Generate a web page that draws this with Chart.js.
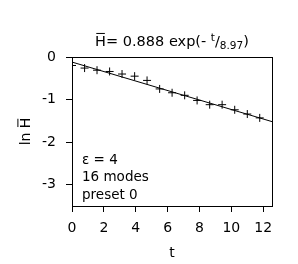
<!DOCTYPE html>
<html>
<head>
<meta charset="utf-8">
<script src="https://cdn.jsdelivr.net/npm/chart.js@4"></script>
<style>
  html, body { margin: 0; padding: 0; background: #fff; }
  #wrap { width: 298px; height: 264px; }
</style>
</head>
<body>
<div id="wrap"><canvas id="chart" width="298" height="264"></canvas></div>
<script>
// ─────────────────────────────────────────────────
// Data
// ─────────────────────────────────────────────────
const tValues = [0, 0.79, 1.57, 2.36, 3.14, 3.93, 4.71, 5.50, 6.28, 7.07, 7.85, 8.64, 9.42, 10.21, 11.00, 11.78];
const lnH = [-0.20, -0.26, -0.31, -0.34, -0.40, -0.45, -0.55, -0.75, -0.84, -0.90, -1.02, -1.12, -1.12, -1.24, -1.34, -1.43];
const fitT = [0, 12.55];
const fitLnH = [-0.119, -1.518];
const xTicks = [0, 2, 4, 6, 8, 10, 12];
const yTicks = [0, -1, -2, -3];
const notes = ['\u03b5 = 4', '16 modes', 'preset 0'];

const FONT = 'DejaVu Sans, sans-serif';

// "H" with a bar over it, starting at (x, y) baseline; returns width
function barH(ctx, x, y, size) {
    const w = ctx.measureText('H').width;
    ctx.fillText('H', x, y);
    ctx.fillRect(x + size * 0.08, y - size * 0.9, w - size * 0.16, 1);
    return w;
}

// title, axis labels, frame and notes
const decor = {
    id: 'decor',
    afterDraw(chart) {
        const { ctx, chartArea: a } = chart;
        ctx.save();
        ctx.strokeStyle = '#000'; ctx.lineWidth = 1;
        ctx.strokeRect(Math.round(a.left) + 0.5, Math.round(a.top) + 0.5, Math.round(a.right - a.left), Math.round(a.bottom - a.top));
        ctx.fillStyle = '#000';

        // title: H̄= 0.888 exp(- t/8.97)
        const cx = (a.left + a.right) / 2, by = 46, big = 14.5;
        const parts = [
            { s: 'H', f: big + 'px ' + FONT, dy: 0, bar: true },
            { s: '= 0.888 exp(- ', f: big + 'px ' + FONT, dy: 0 },
            { s: 't', f: '10.5px ' + FONT, dy: -5 },
            { s: '/', f: big + 'px ' + FONT, dy: 0 },
            { s: '8.97', f: '10.5px ' + FONT, dy: 3 },
            { s: ')', f: big + 'px ' + FONT, dy: 0 }
        ];
        let total = 0;
        parts.forEach(p => { ctx.font = p.f; p.w = ctx.measureText(p.s).width; total += p.w; });
        let x = cx - total / 2;
        ctx.textAlign = 'left'; ctx.textBaseline = 'alphabetic';
        parts.forEach(p => {
            ctx.font = p.f;
            if (p.bar) barH(ctx, x, by + p.dy, big);
            else ctx.fillText(p.s, x, by + p.dy);
            x += p.w;
        });

        // notes
        ctx.font = '13.5px ' + FONT;
        notes.forEach((n, i) => ctx.fillText(n, a.left + 10, 163.5 + i * 17.5));

        // x label
        ctx.font = '14px ' + FONT;
        ctx.textAlign = 'center'; ctx.textBaseline = 'middle';
        ctx.fillText('t', cx, 253);

        // y label: ln H̄
        ctx.translate(30, (a.top + a.bottom) / 2);
        ctx.rotate(-Math.PI / 2);
        ctx.textAlign = 'left'; ctx.textBaseline = 'alphabetic';
        const lw = ctx.measureText('ln ').width, hw = ctx.measureText('H').width;
        const x0 = -(lw + hw) / 2;
        ctx.fillText('ln ', x0, 0);
        barH(ctx, x0 + lw, 0, 14);
        ctx.restore();
    }
};

new Chart(document.getElementById('chart'), {
    type: 'scatter',
    data: {
        datasets: [
            {
                data: tValues.map((t, i) => ({ x: t, y: lnH[i] })),
                pointStyle: 'cross', pointRadius: 4, pointBorderColor: '#000',
                pointBorderWidth: 1, showLine: false
            },
            {
                data: fitT.map((t, i) => ({ x: t, y: fitLnH[i] })),
                showLine: true, borderColor: '#000', borderWidth: 1, pointRadius: 0
            }
        ]
    },
    options: {
        responsive: false, animation: false, devicePixelRatio: 1,
        layout: { padding: { top: 57, right: 26, left: 0, bottom: 0 } },
        plugins: { legend: { display: false }, tooltip: { enabled: false } },
        scales: {
            x: {
                type: 'linear', min: 0, max: 12.55,
                afterBuildTicks: s => { s.ticks = xTicks.map(v => ({ value: v })); },
                afterFit: s => { s.height = 58; },
                grid: { drawOnChartArea: false, color: '#000', tickLength: 6 },
                border: { color: '#000' },
                ticks: { color: '#000', padding: 8, maxRotation: 0, font: { size: 14, family: FONT } }
            },
            y: {
                type: 'linear', min: -3.5, max: 0,
                afterBuildTicks: s => { s.ticks = yTicks.map(v => ({ value: v })); },
                afterFit: s => { s.width = 72; },
                grid: { drawOnChartArea: false, color: '#000', tickLength: 6 },
                border: { color: '#000' },
                ticks: { color: '#000', padding: 10, font: { size: 14, family: FONT } }
            }
        }
    },
    plugins: [decor]
});
</script>
</body>
</html>
